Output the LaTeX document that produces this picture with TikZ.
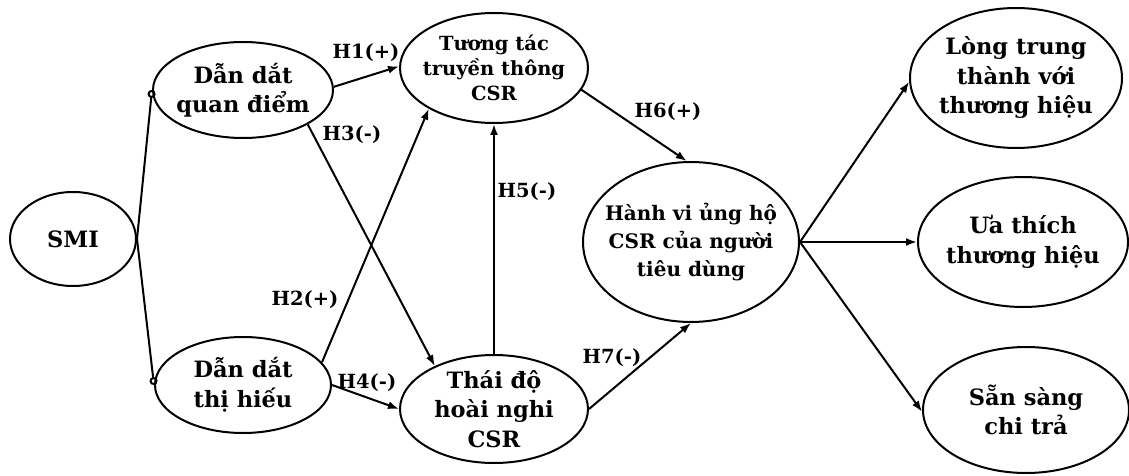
\documentclass[tikz,border=0pt]{standalone}
\usepackage{fontspec}
\setmainfont{DejaVu Serif}
\usetikzlibrary{shapes.geometric,arrows.meta}
\begin{document}
\begin{tikzpicture}[x=1pt,y=-1pt,
  ell/.style={draw,ellipse,line width=2pt,inner sep=-40pt,align=center,font=\fontsize{22.5}{29.5}\selectfont\bfseries},
  ellsm/.style={ell,font=\fontsize{19.5}{25}\selectfont\bfseries},
  arr/.style={line width=2pt,-{Latex[length=11pt,width=8pt]}},
  circ/.style={line width=2pt,-{Circle[open,length=8pt,width=8pt]}},
  lab/.style={font=\fontsize{19.5}{22}\selectfont\bfseries,inner sep=0pt}]
\useasboundingbox (0,0) rectangle (1129,476);
\node[ell,minimum width=126pt,minimum height=94pt] (smi) at (73,239) {SMI};
\node[ell,minimum width=180pt,minimum height=96pt] (ddqd) at (243,90) {Dẫn dắt\\quan điểm};
\node[ell,minimum width=176pt,minimum height=96pt] (ddth) at (243,385) {Dẫn dắt\\thị hiếu};
\node[ellsm,minimum width=188pt,minimum height=110pt] (tt) at (494,68) {Tương tác\\truyền thông\\CSR};
\node[ell,minimum width=188pt,minimum height=108pt] (td) at (494,409) {Thái độ\\hoài nghi\\CSR};
\node[ellsm,minimum width=216pt,minimum height=160pt,font=\fontsize{20}{28}\selectfont\bfseries] (hv) at (691,242) {Hành vi ủng hộ\\CSR của người\\tiêu dùng};
\node[ell,minimum width=212pt,minimum height=140pt] (lt) at (1016,78) {Lòng trung\\thành với\\thương hiệu};
\node[ell,minimum width=210pt,minimum height=130pt] (ut) at (1023,242) {Ưa thích\\thương hiệu};
\node[ell,minimum width=206pt,minimum height=126pt] (ss) at (1026,410) {Sẵn sàng\\chi trả};

\draw[circ] (smi.east) -- (ddqd.west);
\draw[circ] (smi.east) -- (ddth.west);
\draw[arr] (ddqd.2) -- (tt.179);
\draw[arr] (ddqd.-28) -- (td.144);
\draw[arr] (ddth.16) -- (tt.212);
\draw[arr] (ddth.east) -- (td.180);
\draw[arr] (td.north) -- (tt.south);
\draw[arr] (tt.-14) -- (hv.93);
\draw[arr] (td.east) -- (hv.-90);
\draw[arr] (hv.east) -- (lt.182);
\draw[arr] (hv.east) -- (ut.west);
\draw[arr] (hv.east) -- (ss.181);

\node[lab] (l1) at (366,53) {H1(+)};
\node[lab] (l3) at (352,135) {H3(-)};
\node[lab] (l2) at (305,300) {H2(+)};
\node[lab] (l4) at (367,383) {H4(-)};
\node[lab] (l5) at (527,192) {H5(-)};
\node[lab] (l6) at (668,112) {H6(+)};
\node[lab] (l7) at (612,358) {H7(-)};
\end{tikzpicture}
\end{document}
